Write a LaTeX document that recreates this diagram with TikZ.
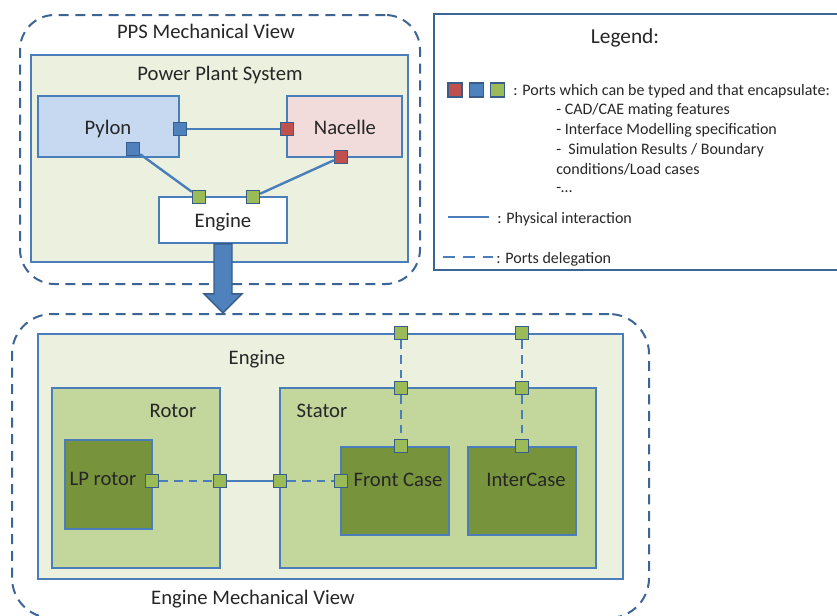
\documentclass[tikz,border=0pt]{standalone}
\usepackage{fontspec}
\setmainfont{Carlito}
\usetikzlibrary{positioning,fit,calc}
\definecolor{lineblue}{RGB}{74,126,187}
\definecolor{viewblue}{RGB}{60,100,148}
\definecolor{portline}{RGB}{56,93,138}
\definecolor{palegreen}{RGB}{235,241,222}
\definecolor{paleblue}{RGB}{198,217,241}
\definecolor{palered}{RGB}{242,220,219}
\definecolor{olive}{RGB}{195,214,155}
\definecolor{darkolive}{RGB}{119,147,60}
\definecolor{pgreen}{RGB}{155,187,89}
\definecolor{pblue}{RGB}{79,129,189}
\definecolor{pred}{RGB}{192,80,77}

\begin{document}
\begin{tikzpicture}[x=0.75pt, y=-0.75pt,
        view/.style={draw=viewblue, line width=1.5pt, dash pattern=on 7.5pt off 5pt, rounded corners=26pt, inner sep=0pt},
        block/.style={rectangle, draw=lineblue, line width=1.3pt, inner sep=0pt},
        port/.style={rectangle, draw=portline, line width=1pt, minimum size=9.75pt, inner sep=0pt},
        lbl/.style={font=\fontsize{15.5}{18}\selectfont, text=black!85, text height=2ex, text depth=0pt, inner sep=0pt},
        leg/.style={font=\fontsize{12}{14}\selectfont, text=black!85, anchor=west, text height=2ex, text depth=0pt, inner sep=0pt},
        link/.style={draw=lineblue, line width=1.8pt},
        deleg/.style={link, dash pattern=on 6.5pt off 4.5pt},
        bigarrow/.style={fill=pblue, draw=portline, line width=1pt}]

    \useasboundingbox (0,0) rectangle (837,615);

    \node[view, fit={(20,15) (420,284)}] (ppsview) {};
    \node[view, rounded corners=30pt, fit={(12,314) (649,618)}] (engview) {};
    \node[block, draw=viewblue, line width=1.4pt, fit={(434,14) (850,270)}] (legend) {};

    \node[block, fill=palegreen, fit={(31,55) (408,262)}] (pps) {};
    \node[block, fill=paleblue, fit={(38,96) (179,157)}] (pylon) {};
    \node[block, fill=palered, fit={(287,96) (402,157)}] (nacelle) {};
    \node[block, fill=white, fit={(159,197) (287,243)}] (engine) {};

    \node[block, fill=palegreen, fit={(38,334) (623,579)}] (engmech) {};
    \node[block, fill=olive, fit={(52,388) (220,568)}] (rotor) {};
    \node[block, fill=olive, fit={(280,388) (596,568)}] (stator) {};
    \node[block, fill=darkolive, fit={(65,440) (152,529)}] (lprotor) {};
    \node[block, fill=darkolive, fit={(341,447) (449,535)}] (frontcase) {};
    \node[block, fill=darkolive, fit={(468,447) (576,535)}] (intercase) {};

    \node[lbl] (ppstitle) at (206,32) {PPS Mechanical View};
    \node[lbl] (ppslabel) at (220,74) {Power Plant System};
    \node[lbl] (pylonlabel) at (108,128) {Pylon};
    \node[lbl] (nacellelabel) at (345,128) {Nacelle};
    \node[lbl] (enginelabel) at (223,221) {Engine};
    \node[lbl] (engmechlabel) at (257,358) {Engine};
    \node[lbl] (rotorlabel) at (173,411) {Rotor};
    \node[lbl] (statorlabel) at (322,411) {Stator};
    \node[lbl] (lprotorlabel) at (103,479) {LP rotor};
    \node[lbl] (frontlabel) at (398,480) {Front Case};
    \node[lbl] (interlabel) at (526,480) {InterCase};
    \node[lbl] (engtitle) at (253,598) {Engine Mechanical View};

    \node[port, fill=pblue] (pyloneast) at (180,129) {};
    \node[port, fill=pblue] (pylonsouth) at (133,149) {};
    \node[port, fill=pred] (nacellewest) at (287,129) {};
    \node[port, fill=pred] (nacellesouth) at (341,157) {};
    \node[port, fill=pgreen] (engineleft) at (199,197) {};
    \node[port, fill=pgreen] (engineright) at (253,197) {};

    \draw[link] (pyloneast) -- (nacellewest);
    \draw[link] (pylonsouth) -- (engineleft);
    \draw[link] (nacellesouth) -- (engineright);

    \node[port, fill=pgreen] (lpport) at (152,481) {};
    \node[port, fill=pgreen] (rotorport) at (220,481) {};
    \node[port, fill=pgreen] (statorport) at (280,481) {};
    \node[port, fill=pgreen] (frontport) at (341,481) {};
    \node[port, fill=pgreen] (engtopa) at (401,333) {};
    \node[port, fill=pgreen] (statortopa) at (401,388) {};
    \node[port, fill=pgreen] (frontnorth) at (401,446) {};
    \node[port, fill=pgreen] (engtopb) at (522,333) {};
    \node[port, fill=pgreen] (statortopb) at (522,388) {};
    \node[port, fill=pgreen] (internorth) at (522,446) {};

    \draw[deleg] (lpport) -- (rotorport);
    \draw[link] (rotorport) -- (statorport);
    \draw[deleg] (statorport) -- (frontport);
    \draw[deleg] (engtopa) -- (statortopa);
    \draw[deleg] (statortopa) -- (frontnorth);
    \draw[deleg] (engtopb) -- (statortopb);
    \draw[deleg] (statortopb) -- (internorth);

    \filldraw[bigarrow] ($(engine.south)+(-9,0)$) -- ++(0,50) -- ++(-10,0) -- ++(19,19)
        -- ++(19,-19) -- ++(-10,0) -- ++(0,-50) -- cycle;

    \node[lbl, font=\fontsize{16}{19}\selectfont] (legtitle) at (625,37) {Legend:};
    \node[port, fill=pred, minimum size=10.5pt] (legred) at (455,90) {};
    \node[port, fill=pblue, minimum size=10.5pt, right=4.5pt of legred] (legblue) {};
    \node[port, fill=pgreen, minimum size=10.5pt, right=4.5pt of legblue] (leggreen) {};
    \node[leg] (legports) at (513,89) {: Ports which can be typed and that encapsulate:};
    \node[leg] (legcad) at (556,108) {- CAD/CAE mating features};
    \node[leg] (legspec) at (556,128) {- Interface Modelling specification};
    \node[leg] (legsim) at (556,148) {-\ \ Simulation Results / Boundary};
    \node[leg] (legload) at (556,168) {conditions/Load cases};
    \node[leg] (legdots) at (556,186) {-\ldots};
    \coordinate (solidstart) at (448,217);
    \coordinate (solidend) at (489,217);
    \draw[link] (solidstart) -- (solidend);
    \node[leg] (legphys) at (497,217) {: Physical interaction};
    \coordinate (dashstart) at (443,257);
    \coordinate (dashend) at (493,257);
    \draw[link, dash pattern=on 9pt off 6pt] (dashstart) -- (dashend);
    \node[leg] (legdeleg) at (496,257) {: Ports delegation};

\end{tikzpicture}
\end{document}
